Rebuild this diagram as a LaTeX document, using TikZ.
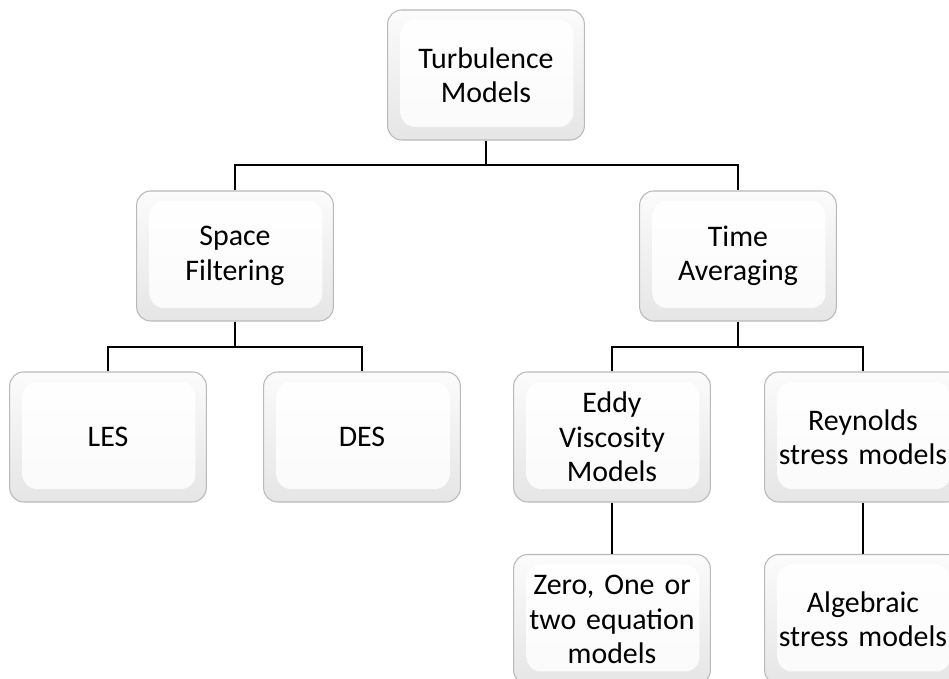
\documentclass[tikz,border=0pt]{standalone}
\usepackage{fontspec}
\setmainfont{Carlito}
\usepackage{tikz}
\usetikzlibrary{calc}

\tikzset{
  modelbox/.style={draw=gray!55, line width=0.6pt, rounded corners=8pt,
    top color=gray!3, bottom color=gray!20,
    minimum width=3.86cm, minimum height=2.6cm, text width=3.7cm, align=center,
    font=\fontsize{17}{19.5}\selectfont,
    path picture={
      \shade[top color=white, bottom color=gray!4]
        ($(path picture bounding box.south west)+(0.26,0.26)$)
        rectangle ($(path picture bounding box.north east)+(-0.22,-0.2)$);
    }},
  link/.style={line width=1.2pt, black}
}

\begin{document}
\begin{tikzpicture}
\useasboundingbox (0,0) rectangle (18.98,13.58);
% top level
\node[modelbox] (turb) at (9.72,12.08) {Turbulence\\Models};
\node[modelbox] (space) at (4.70,8.46) {Space\\Filtering};
\node[modelbox] (time) at (14.76,8.46) {Time\\Averaging};
% third row
\node[modelbox] (les) at (2.16,4.84) {LES};
\node[modelbox] (des) at (7.24,4.84) {DES};
\node[modelbox] (eddy) at (12.24,4.84) {Eddy\\Viscosity\\Models};
\node[modelbox] (rey) at (17.26,4.84) {Reynolds\\stress models};
% bottom row
\node[modelbox] (zero) at (12.24,1.19) {Zero, One or\\two equation\\models};
\node[modelbox] (alg) at (17.26,1.19) {Algebraic\\stress models};

\coordinate (j1) at (9.72,10.28);
\coordinate (j2) at (4.70,6.64);
\coordinate (j3) at (14.76,6.64);
\draw[link] (turb.south) -- (j1) -| (space.north);
\draw[link] (j1) -| (time.north);
\draw[link] (space.south) -- (j2);
\draw[link] (les.north) |- (j2) -| (des.north);
\draw[link] (time.south) -- (j3);
\draw[link] (eddy.north) |- (j3) -| (rey.north);
\draw[link] (eddy.south) -- (zero.north);
\draw[link] (rey.south) -- (alg.north);
\end{tikzpicture}
\end{document}
